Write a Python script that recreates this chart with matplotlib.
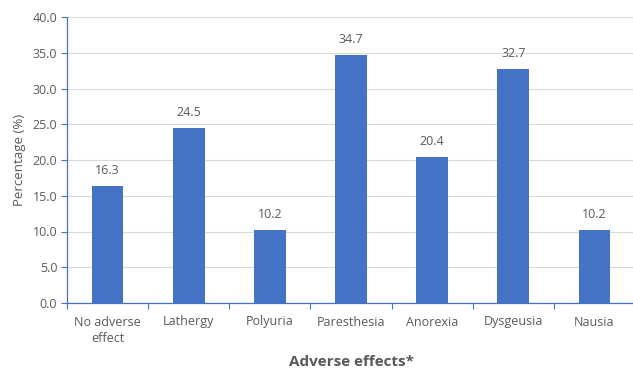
import matplotlib
matplotlib.use("Agg")
import matplotlib.pyplot as plt
import numpy as np

categories = ["No adverse\neffect", "Lathergy", "Polyuria", "Paresthesia",
              "Anorexia", "Dysgeusia", "Nausia"]
values = [16.3, 24.5, 10.2, 34.7, 20.4, 32.7, 10.2]
y_ticks = [0, 5, 10, 15, 20, 25, 30, 35, 40]

bar_color = "#4472C4"
axis_color = "#4472C4"
text_color = "#595959"
grid_color = "#D9D9D9"

plt.rcParams["font.family"] = ["Open Sans", "DejaVu Sans"]

fig = plt.figure(figsize=(6.33, 3.72), dpi=100)
ax = fig.add_axes([67 / 633, 69 / 372, 568 / 633, 286 / 372])

x = np.arange(len(categories))
ax.bar(x, values, width=0.39, color=bar_color, zorder=3)
for xi, v in zip(x, values):
    ax.text(xi, v + 1.3, f"{v:.1f}", ha="center", va="bottom",
            fontsize=9, color=text_color)

ax.set_xlim(-0.5, len(categories) - 0.5)
ax.set_ylim(0, 40)
ax.set_yticks(y_ticks)
ax.set_yticklabels([f"{t:.1f}" for t in y_ticks], fontsize=9, color=text_color)
ax.yaxis.grid(True, color=grid_color, linewidth=0.8, zorder=0)

# category labels sit between boundary ticks
ax.set_xticks(x)
ax.set_xticklabels(categories, fontsize=9, color=text_color, linespacing=1.35)
ax.tick_params(axis="x", length=0, pad=9)
ax.set_xticks(np.arange(len(categories) + 1) - 0.5, minor=True)
ax.tick_params(axis="x", which="minor", length=4, color=axis_color, width=0.8)
ax.tick_params(axis="y", length=4, color=axis_color, width=0.8, pad=3)

for side in ["top", "right"]:
    ax.spines[side].set_visible(False)
for side in ["left", "bottom"]:
    ax.spines[side].set_color(axis_color)
    ax.spines[side].set_linewidth(0.9)

ax.set_ylabel("Percentage (%)", fontsize=9.5, color=text_color, labelpad=5)
ax.set_xlabel("Adverse effects*", fontsize=11, fontweight="bold",
              color=text_color, labelpad=7)

fig.savefig("out.png", dpi=100)
